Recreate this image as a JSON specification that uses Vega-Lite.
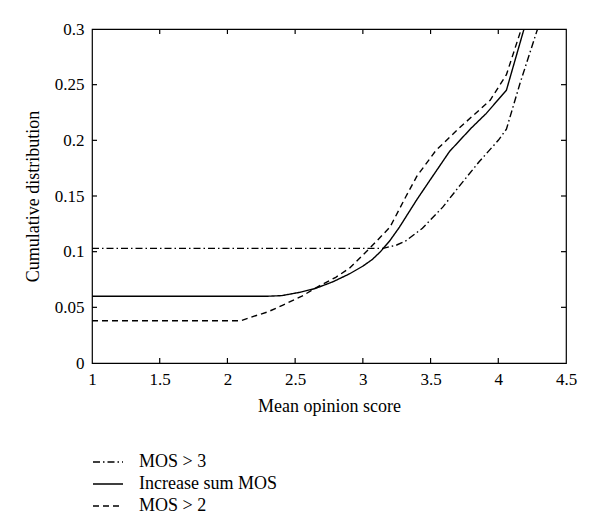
{
  "$schema": "https://vega.github.io/schema/vega-lite/v6.json",
  "width": 474,
  "height": 334,
  "autosize": {"type": "none"},
  "padding": {"left": 92, "top": 29, "right": 34, "bottom": 165},
  "background": "white",
  "config": {
    "font": "Liberation Serif",
    "view": {"stroke": "black", "strokeWidth": 1.2},
    "axis": {"domain": false, "grid": false, "ticks": false, "labelColor": "black", "titleColor": "black", "labelFont": "Liberation Serif", "titleFont": "Liberation Serif", "labelFontSize": 17, "titleFontSize": 18, "titleFontWeight": "normal"}
  },
  "datasets": {
    "curves": [
      {"series": "MOS > 3", "mos": 1.0, "cdf": 0.103},
      {"series": "MOS > 3", "mos": 3.15, "cdf": 0.103},
      {"series": "MOS > 3", "mos": 3.25, "cdf": 0.106},
      {"series": "MOS > 3", "mos": 3.32, "cdf": 0.110},
      {"series": "MOS > 3", "mos": 3.44, "cdf": 0.121},
      {"series": "MOS > 3", "mos": 3.59, "cdf": 0.140},
      {"series": "MOS > 3", "mos": 3.72, "cdf": 0.160},
      {"series": "MOS > 3", "mos": 3.86, "cdf": 0.181},
      {"series": "MOS > 3", "mos": 4.0, "cdf": 0.200},
      {"series": "MOS > 3", "mos": 4.06, "cdf": 0.210},
      {"series": "MOS > 3", "mos": 4.16, "cdf": 0.251},
      {"series": "MOS > 3", "mos": 4.29, "cdf": 0.300},
      {"series": "Increase sum MOS", "mos": 1.0, "cdf": 0.06},
      {"series": "Increase sum MOS", "mos": 2.3, "cdf": 0.06},
      {"series": "Increase sum MOS", "mos": 2.4, "cdf": 0.0605},
      {"series": "Increase sum MOS", "mos": 2.535, "cdf": 0.0635},
      {"series": "Increase sum MOS", "mos": 2.65, "cdf": 0.067},
      {"series": "Increase sum MOS", "mos": 2.78, "cdf": 0.073},
      {"series": "Increase sum MOS", "mos": 2.9, "cdf": 0.080},
      {"series": "Increase sum MOS", "mos": 3.0, "cdf": 0.087},
      {"series": "Increase sum MOS", "mos": 3.07, "cdf": 0.093},
      {"series": "Increase sum MOS", "mos": 3.13, "cdf": 0.100},
      {"series": "Increase sum MOS", "mos": 3.2, "cdf": 0.110},
      {"series": "Increase sum MOS", "mos": 3.27, "cdf": 0.122},
      {"series": "Increase sum MOS", "mos": 3.4, "cdf": 0.147},
      {"series": "Increase sum MOS", "mos": 3.5, "cdf": 0.165},
      {"series": "Increase sum MOS", "mos": 3.64, "cdf": 0.190},
      {"series": "Increase sum MOS", "mos": 3.8, "cdf": 0.211},
      {"series": "Increase sum MOS", "mos": 3.91, "cdf": 0.224},
      {"series": "Increase sum MOS", "mos": 4.06, "cdf": 0.245},
      {"series": "Increase sum MOS", "mos": 4.19, "cdf": 0.300},
      {"series": "MOS > 2", "mos": 1.0, "cdf": 0.038},
      {"series": "MOS > 2", "mos": 2.1, "cdf": 0.038},
      {"series": "MOS > 2", "mos": 2.17, "cdf": 0.041},
      {"series": "MOS > 2", "mos": 2.3, "cdf": 0.046},
      {"series": "MOS > 2", "mos": 2.41, "cdf": 0.052},
      {"series": "MOS > 2", "mos": 2.55, "cdf": 0.060},
      {"series": "MOS > 2", "mos": 2.66, "cdf": 0.068},
      {"series": "MOS > 2", "mos": 2.8, "cdf": 0.077},
      {"series": "MOS > 2", "mos": 2.9, "cdf": 0.085},
      {"series": "MOS > 2", "mos": 3.05, "cdf": 0.103},
      {"series": "MOS > 2", "mos": 3.2, "cdf": 0.122},
      {"series": "MOS > 2", "mos": 3.32, "cdf": 0.150},
      {"series": "MOS > 2", "mos": 3.4, "cdf": 0.168},
      {"series": "MOS > 2", "mos": 3.54, "cdf": 0.191},
      {"series": "MOS > 2", "mos": 3.72, "cdf": 0.212},
      {"series": "MOS > 2", "mos": 3.94, "cdf": 0.236},
      {"series": "MOS > 2", "mos": 4.06, "cdf": 0.259},
      {"series": "MOS > 2", "mos": 4.17, "cdf": 0.300}
    ],
    "xticks": [{"t": 1.5}, {"t": 2}, {"t": 2.5}, {"t": 3}, {"t": 3.5}, {"t": 4}],
    "yticks": [{"t": 0.05}, {"t": 0.1}, {"t": 0.15}, {"t": 0.2}, {"t": 0.25}]
  },
  "resolve": {"axis": {"x": "independent", "y": "independent"}},
  "layer": [
    {
      "data": {"name": "curves"},
      "mark": {"type": "line", "color": "black", "strokeWidth": 1.4, "clip": true},
      "encoding": {
        "x": {"field": "mos", "type": "quantitative", "scale": {"domain": [1, 4.5], "nice": false, "zero": false},
              "axis": {"title": "Mean opinion score", "values": [1, 1.5, 2, 2.5, 3, 3.5, 4, 4.5], "format": "~g", "labelPadding": 8, "titlePadding": 10, "labelFlush": false}},
        "y": {"field": "cdf", "type": "quantitative", "scale": {"domain": [0, 0.3], "nice": false},
              "axis": {"title": "Cumulative distribution", "values": [0, 0.05, 0.1, 0.15, 0.2, 0.25, 0.3], "format": "~g", "labelPadding": 8, "titlePadding": 12}},
        "strokeDash": {"field": "series", "type": "nominal",
          "scale": {"domain": ["MOS > 3", "Increase sum MOS", "MOS > 2"], "range": [[7, 3, 1.5, 3], [1, 0], [6, 4]]},
          "legend": {"title": null, "orient": "none", "legendX": 5, "legendY": 422, "symbolType": "M-1.5,0H1.5", "symbolSize": 400, "symbolStrokeWidth": 1.4, "symbolStrokeColor": "black", "labelFont": "Liberation Serif", "labelFontSize": 18, "labelColor": "black", "labelOffset": 20, "rowPadding": 2, "symbolOffset": 0}}
      }
    },
    {
      "data": {"name": "xticks"},
      "mark": {"type": "rule", "color": "black", "strokeWidth": 1.2},
      "encoding": {
        "x": {"field": "t", "type": "quantitative", "axis": null},
        "y": {"datum": 0, "type": "quantitative", "axis": null},
        "y2": {"datum": 0.0045}
      }
    },
    {
      "data": {"name": "xticks"},
      "mark": {"type": "rule", "color": "black", "strokeWidth": 1.2},
      "encoding": {
        "x": {"field": "t", "type": "quantitative", "axis": null},
        "y": {"datum": 0.3, "type": "quantitative", "axis": null},
        "y2": {"datum": 0.2955}
      }
    },
    {
      "data": {"name": "yticks"},
      "mark": {"type": "rule", "color": "black", "strokeWidth": 1.2},
      "encoding": {
        "y": {"field": "t", "type": "quantitative", "axis": null},
        "x": {"datum": 1, "type": "quantitative", "axis": null},
        "x2": {"datum": 1.037}
      }
    },
    {
      "data": {"name": "yticks"},
      "mark": {"type": "rule", "color": "black", "strokeWidth": 1.2},
      "encoding": {
        "y": {"field": "t", "type": "quantitative", "axis": null},
        "x": {"datum": 4.5, "type": "quantitative", "axis": null},
        "x2": {"datum": 4.463}
      }
    }
  ]
}
